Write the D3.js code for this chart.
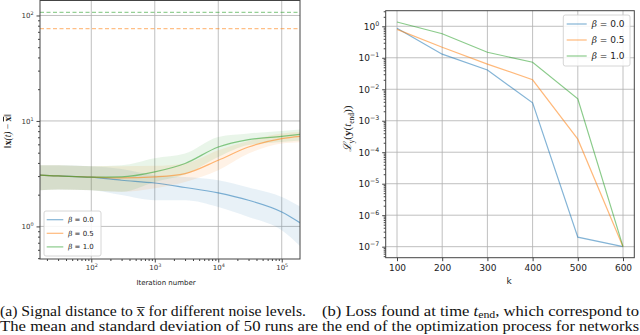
<!DOCTYPE html>
<html>
<head>
<meta charset="utf-8">
<script src="https://cdn.jsdelivr.net/npm/d3@7"></script>
<style>
  body { margin: 0; background: #fff; }
</style>
</head>
<body>
<svg id="chart" width="640" height="335" font-family="DejaVu Sans, sans-serif"></svg>
<script>
// ---- data (a): signal distance vs iteration number ----
const iters = [15, 30, 100, 300, 1000, 3000, 10000, 30000, 100000, 200000];
const b0Mean = [3.06, 3.01, 2.93, 2.74, 2.58, 2.34, 2.08, 1.77, 1.37, 1.07];
const b0Lo   = [2.2, 2.24, 2.2, 1.98, 1.77, 1.77, 1.53, 1.23, 0.92, 0.64];
const b0Hi   = [3.8, 3.8, 3.72, 3.5, 3.06, 2.94, 2.74, 2.34, 1.9, 1.53];
const b05Mean = [3.06, 3.01, 2.93, 2.88, 2.95, 3.17, 4.24, 5.66, 6.8, 7.15];
const b05Lo   = [2.2, 2.24, 2.2, 2.13, 2.3, 2.64, 3.4, 4.9, 6.1, 6.3];
const b05Hi   = [3.8, 3.8, 3.72, 3.72, 3.75, 3.95, 5.27, 6.45, 7.6, 7.85];
const b1Mean = [3.06, 3.01, 2.93, 2.95, 3.29, 3.95, 5.66, 6.65, 7.15, 7.47];
const b1Lo   = [2.2, 2.24, 2.2, 2.13, 2.64, 3.1, 4.55, 5.9, 6.3, 6.55];
const b1Hi   = [3.8, 3.8, 3.72, 3.8, 4.43, 4.9, 7.04, 7.6, 8.03, 8.3];
const dashLevels = [{ v: 107, c: "#2ca02c" }, { v: 75, c: "#ff7f0e" }];

// ---- data (b): loss at t_end vs k ----
const ks = [100, 200, 300, 400, 500, 600];
const loss0 = [0.86, 0.13, 0.041, 0.0037, 2e-7, 1e-7];
const loss05 = [0.8, 0.215, 0.063, 0.02, 2.6e-4, 1e-7];
const loss1 = [1.37, 0.58, 0.15, 0.072, 0.005, 1e-7];

const labels = ["0.0", "0.5", "1.0"];
const colors = ["#1f77b4", "#ff7f0e", "#2ca02c"];

const serif = "Liberation Serif";
const svg = d3.select("#chart");

function supLabel(sel, size) {
  sel.each(function(d) {
    const t = d3.select(this);
    const e = Math.round(Math.log10(d));
    t.text("");
    t.append("tspan").text("10");
    t.append("tspan").attr("dy", -size * 0.45).attr("font-size", size * 0.7)
      .text(e < 0 ? "\u2212" + (-e) : e);
  });
}

function minorTicks(lo, hi) {
  const out = [];
  for (let e = Math.floor(Math.log10(lo)); e <= Math.ceil(Math.log10(hi)); e++) {
    for (let m = 2; m <= 9; m++) {
      const v = m * Math.pow(10, e);
      if (v >= lo && v <= hi) out.push(v);
    }
  }
  return out;
}

// ================= chart (a) =================
{
  const L = 40, R = 300, T = 0.5, B = 259;
  const x = d3.scaleLog().domain([15.56, 1.94e5]).range([L, R]);
  const y = d3.scaleLog().domain([Math.pow(10, -0.309), Math.pow(10, 2.142)]).range([B, T]);
  const g = svg.append("g");

  g.append("clipPath").attr("id", "clipA").append("rect")
    .attr("x", L).attr("y", T).attr("width", R - L).attr("height", B - T);

  const xMaj = [1e2, 1e3, 1e4, 1e5], yMaj = [1, 10, 100];
  g.append("g").selectAll("line").data(xMaj).join("line")
    .attr("x1", d => x(d)).attr("x2", d => x(d)).attr("y1", T).attr("y2", B)
    .attr("stroke", "#b0b0b0").attr("stroke-width", 0.8);
  g.append("g").selectAll("line").data(yMaj).join("line")
    .attr("x1", L).attr("x2", R).attr("y1", d => y(d)).attr("y2", d => y(d))
    .attr("stroke", "#b0b0b0").attr("stroke-width", 0.8);

  const plot = g.append("g").attr("clip-path", "url(#clipA)");
  const series = [[b0Mean, b0Lo, b0Hi], [b05Mean, b05Lo, b05Hi], [b1Mean, b1Lo, b1Hi]];
  const area = d3.area().curve(d3.curveMonotoneX)
    .x(d => x(d[0])).y0(d => y(d[1])).y1(d => y(d[2]));
  const line = d3.line().curve(d3.curveMonotoneX).x(d => x(d[0])).y(d => y(d[1]));

  series.forEach((s, i) => {
    const pts = iters.map((it, j) => [it, s[1][j], s[2][j]]);
    plot.append("path").datum(pts).attr("d", area)
      .attr("fill", colors[i]).attr("fill-opacity", 0.1);
  });
  series.forEach((s, i) => {
    const pts = iters.map((it, j) => [it, s[0][j]]);
    plot.append("path").datum(pts).attr("d", line)
      .attr("fill", "none").attr("stroke", colors[i]).attr("stroke-opacity", 0.55)
      .attr("stroke-width", 1.2);
  });
  plot.selectAll(".dash").data(dashLevels).join("line")
    .attr("x1", L).attr("x2", R).attr("y1", d => y(d.v)).attr("y2", d => y(d.v))
    .attr("stroke", d => d.c).attr("stroke-opacity", 0.5).attr("stroke-width", 1.2)
    .attr("stroke-dasharray", "4,2.5");

  // axes
  const xAx = g.append("g").attr("transform", `translate(0,${B})`)
    .call(d3.axisBottom(x).tickValues(xMaj).tickSize(3.5).tickPadding(3));
  xAx.selectAll("text").attr("font-size", 7).attr("fill", "#333").call(supLabel, 7);
  g.append("g").attr("transform", `translate(0,${B})`)
    .call(d3.axisBottom(x).tickValues(minorTicks(15.56, 1.94e5)).tickSize(2).tickFormat(""));
  const yAx = g.append("g").attr("transform", `translate(${L},0)`)
    .call(d3.axisLeft(y).tickValues(yMaj).tickSize(3.5).tickPadding(3));
  yAx.selectAll("text").attr("font-size", 7).attr("fill", "#333").call(supLabel, 7);
  g.append("g").attr("transform", `translate(${L},0)`)
    .call(d3.axisLeft(y).tickValues(minorTicks(0.5, 138)).tickSize(2).tickFormat(""));
  g.selectAll(".domain").remove();
  g.selectAll(".tick line").attr("stroke", "#444");
  g.selectAll(".tick text").attr("font-family", "DejaVu Sans");

  g.append("rect").attr("x", L).attr("y", T).attr("width", R - L).attr("height", B - T)
    .attr("fill", "none").attr("stroke", "#444").attr("stroke-width", 1);

  g.append("text").attr("x", (L + R) / 2 - 4).attr("y", 285).attr("text-anchor", "middle")
    .attr("font-size", 7).attr("fill", "#222").text("Iteration number");

  const yl = g.append("text").attr("transform", "translate(11,131) rotate(-90)")
    .attr("text-anchor", "middle").attr("font-size", 9.5).attr("fill", "#222")
    .attr("font-family", serif);
  yl.append("tspan").text("\u2016");
  yl.append("tspan").attr("font-weight", "bold").text("x");
  yl.append("tspan").attr("font-style", "italic").text("(t)");
  yl.append("tspan").text(" \u2212 ");
  yl.append("tspan").attr("font-weight", "bold").attr("text-decoration", "overline").text("x");
  yl.append("tspan").text("\u2016");

  // legend
  const lg = g.append("g");
  lg.append("rect").attr("x", 44).attr("y", 211).attr("width", 57).attr("height", 45)
    .attr("rx", 2).attr("fill", "#fff").attr("fill-opacity", 0.85).attr("stroke", "#ccc").attr("stroke-width", 0.8);
  labels.forEach((lab, i) => {
    const yy = 219.7 + i * 13.6;
    lg.append("line").attr("x1", 46.7).attr("x2", 63.3).attr("y1", yy).attr("y2", yy)
      .attr("stroke", colors[i]).attr("stroke-opacity", 0.55).attr("stroke-width", 1.2);
    const t = lg.append("text").attr("x", 68.3).attr("y", yy + 2.5).attr("font-size", 7).attr("fill", "#222");
    t.append("tspan").attr("font-style", "italic").attr("font-family", "DejaVu Serif").text("\u03b2");
    t.append("tspan").text(" = " + lab);
  });
}

// ================= chart (b) =================
{
  const L = 385.7, R = 634.3, T = 10.7, B = 257.7;
  const x = d3.scaleLinear().domain([75, 625]).range([L, R]);
  const y = d3.scaleLog().domain([Math.pow(10, -7.35), Math.pow(10, 0.495)]).range([B, T]);
  const g = svg.append("g");

  const yMaj = d3.range(-7, 1).map(e => Math.pow(10, e));
  g.append("g").selectAll("line").data(ks).join("line")
    .attr("x1", d => x(d)).attr("x2", d => x(d)).attr("y1", T).attr("y2", B)
    .attr("stroke", "#b0b0b0").attr("stroke-width", 0.8);
  g.append("g").selectAll("line").data(yMaj).join("line")
    .attr("x1", L).attr("x2", R).attr("y1", d => y(d)).attr("y2", d => y(d))
    .attr("stroke", "#b0b0b0").attr("stroke-width", 0.8);

  const line = d3.line().x(d => x(d[0])).y(d => y(d[1]));
  [loss0, loss05, loss1].forEach((s, i) => {
    g.append("path").datum(ks.map((k, j) => [k, s[j]])).attr("d", line)
      .attr("fill", "none").attr("stroke", colors[i]).attr("stroke-opacity", 0.55)
      .attr("stroke-width", 1.2);
  });

  const xAx = g.append("g").attr("transform", `translate(0,${B})`)
    .call(d3.axisBottom(x).tickValues(ks).tickSize(3.5).tickPadding(3));
  xAx.selectAll("text").attr("font-size", 9).attr("fill", "#222");
  const yAx = g.append("g").attr("transform", `translate(${L},0)`)
    .call(d3.axisLeft(y).tickValues(yMaj).tickSize(3.5).tickPadding(3));
  yAx.selectAll("text").attr("font-size", 9).attr("fill", "#222").call(supLabel, 9);
  g.append("g").attr("transform", `translate(${L},0)`)
    .call(d3.axisLeft(y).tickValues(minorTicks(Math.pow(10, -7.35), Math.pow(10, 0.495))).tickSize(2).tickFormat(""));
  g.selectAll(".domain").remove();
  g.selectAll(".tick line").attr("stroke", "#444");
  g.selectAll(".tick text").attr("font-family", "DejaVu Sans");

  g.append("rect").attr("x", L).attr("y", T).attr("width", R - L).attr("height", B - T)
    .attr("fill", "none").attr("stroke", "#444").attr("stroke-width", 1);

  g.append("text").attr("x", (L + R) / 2 - 1).attr("y", 284).attr("text-anchor", "middle")
    .attr("font-size", 9).attr("fill", "#222").text("k");

  const yl = g.append("text").attr("transform", "translate(351,129) rotate(-90)")
    .attr("text-anchor", "middle").attr("font-size", 11).attr("fill", "#222")
    .attr("font-family", serif);
  yl.append("tspan").attr("font-style", "italic").text("\u2112");
  yl.append("tspan").attr("font-size", 7.5).attr("dy", 2.5).text("y");
  yl.append("tspan").attr("dy", -2.5).text("(");
  yl.append("tspan").attr("font-weight", "bold").text("y");
  yl.append("tspan").text("(");
  yl.append("tspan").attr("font-style", "italic").text("t");
  yl.append("tspan").attr("font-size", 7.5).attr("dy", 2.5).text("end");
  yl.append("tspan").attr("dy", -2.5).text("))");

  const lg = g.append("g");
  lg.append("rect").attr("x", 563.3).attr("y", 15).attr("width", 66.7).attr("height", 51)
    .attr("rx", 2).attr("fill", "#fff").attr("fill-opacity", 0.85).attr("stroke", "#ccc").attr("stroke-width", 0.8);
  labels.forEach((lab, i) => {
    const yy = 24 + i * 16;
    lg.append("line").attr("x1", 566.7).attr("x2", 586.7).attr("y1", yy).attr("y2", yy)
      .attr("stroke", colors[i]).attr("stroke-opacity", 0.55).attr("stroke-width", 1.2);
    const t = lg.append("text").attr("x", 591.7).attr("y", yy + 3.2).attr("font-size", 9).attr("fill", "#222");
    t.append("tspan").attr("font-style", "italic").attr("font-family", "DejaVu Serif").text("\u03b2");
    t.append("tspan").text(" = " + lab);
  });
}

// ---- captions ----
const capA = ["(a) Signal distance to x\u0305 for different noise levels.",
              "The mean and standard deviation of 50 runs are"];
const capB = ["(b) Loss found at time ", "t", "end", ", which correspond to",
              "the end of the optimization process for networks"];

function caption(xp, yp, len) {
  return svg.append("text").attr("x", xp).attr("y", yp)
    .attr("textLength", len).attr("lengthAdjust", "spacingAndGlyphs")
    .attr("font-size", 14).attr("fill", "#111")
    .attr("font-family", serif);
}
caption(0, 316, 306).text(capA[0]);
caption(0, 331, 318).text(capA[1]);
const cb = caption(322, 316, 317);
cb.append("tspan").text(capB[0]);
cb.append("tspan").attr("font-style", "italic").text(capB[1]);
cb.append("tspan").attr("font-size", 10).attr("dy", 2).text(capB[2]);
cb.append("tspan").attr("dy", -2).text(capB[3]);
caption(322, 331, 317).text(capB[4]);
</script>
</body>
</html>
